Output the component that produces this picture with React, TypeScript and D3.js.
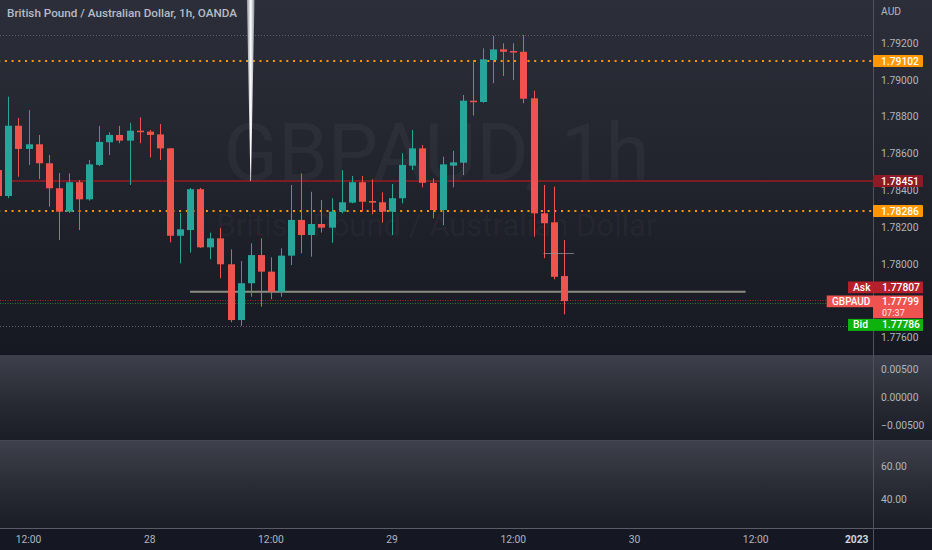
import React, { useRef, useEffect } from "react";
import * as d3 from "d3";

const WIDTH = 932;
const HEIGHT = 550;

// GBPAUD hourly candles (27 Dec 09:00 -> 29 Dec 17:00)
const opens = [
  1.78511, 1.7837, 1.78752, 1.78626, 1.78651, 1.78548, 1.78412, 1.78285, 1.78445, 1.78352,
  1.78539, 1.78662, 1.78702, 1.78671, 1.78725, 1.7872, 1.78705, 1.78629, 1.78154, 1.78185,
  1.78407, 1.78091, 1.7814, 1.77999, 1.77696, 1.77896, 1.78049, 1.77959, 1.7785, 1.78046,
  1.7824, 1.78158, 1.78218, 1.78198, 1.78285, 1.78334, 1.78445, 1.78343, 1.78336, 1.78285,
  1.78358, 1.78535, 1.78629, 1.78442, 1.78294, 1.78535, 1.78551, 1.78888, 1.78881, 1.79109,
  1.79167, 1.79158, 1.79154, 1.78901, 1.78276, 1.78227, 1.77935,
];
const highs = [
  1.78539, 1.7891, 1.78794, 1.78837, 1.78702, 1.78593, 1.78495, 1.78493, 1.78457, 1.78566,
  1.78751, 1.78716, 1.78751, 1.78768, 1.78798, 1.78729, 1.78761, 1.78631, 1.78278, 1.78414,
  1.78414, 1.78171, 1.78195, 1.7808, 1.78017, 1.78113, 1.7814, 1.78037, 1.78086, 1.7843,
  1.78493, 1.78393, 1.78348, 1.78358, 1.78511, 1.78479, 1.78479, 1.78461, 1.7839, 1.78435,
  1.78602, 1.78729, 1.78647, 1.78466, 1.78584, 1.78616, 1.78919, 1.79109, 1.79173, 1.7924,
  1.792, 1.792, 1.79245, 1.78942, 1.7843, 1.78421, 1.78131,
];
const lows = [
  1.78354, 1.78359, 1.78475, 1.78539, 1.78462, 1.78312, 1.78131, 1.78278, 1.78185, 1.78345,
  1.78533, 1.78593, 1.78657, 1.7843, 1.78657, 1.7858, 1.78566, 1.78118, 1.78004, 1.78062,
  1.78088, 1.78026, 1.77923, 1.77684, 1.77664, 1.77823, 1.77768, 1.77809, 1.77823, 1.77995,
  1.78059, 1.7804, 1.78171, 1.78116, 1.78276, 1.7833, 1.78285, 1.78271, 1.78225, 1.78158,
  1.7833, 1.78511, 1.78417, 1.78249, 1.78212, 1.78417, 1.78484, 1.78807, 1.78877, 1.78983,
  1.79022, 1.79001, 1.78874, 1.78149, 1.78032, 1.77917, 1.77727,
];
const closes = [
  1.7837, 1.78752, 1.78626, 1.78651, 1.78548, 1.78412, 1.78285, 1.78445, 1.78352, 1.78542,
  1.78664, 1.78702, 1.78671, 1.78725, 1.78718, 1.78702, 1.78629, 1.78154, 1.78189, 1.78407,
  1.78091, 1.7814, 1.77999, 1.77696, 1.77896, 1.78049, 1.77959, 1.7785, 1.78046, 1.7824,
  1.78158, 1.78218, 1.78198, 1.78285, 1.78336, 1.78445, 1.78339, 1.78334, 1.78285, 1.78358,
  1.78539, 1.78629, 1.78442, 1.78294, 1.78542, 1.78553, 1.78888, 1.78881, 1.79113, 1.79167,
  1.79154, 1.79153, 1.78899, 1.78276, 1.78222, 1.77931, 1.77799,
];

const timeTickBars = [3, 15, 27, 39, 51, 63, 75, 85];
const timeTickLabels = ["12:00", "28", "12:00", "29", "12:00", "30", "12:00", "2023"];

// 1.77800 is hidden behind the last-price labels in the original
const priceTicks = [1.792, 1.79, 1.788, 1.786, 1.784, 1.782, 1.78, 1.776];
const oscTicks = [0.005, 0, -0.005];
const rsiTicks = [60, 40];

// horizontal levels drawn by the user
const levelPrices = [1.79102, 1.78451, 1.78286];
const levelColors = ["#ff9800", "#7c1d25", "#ff9800"];
const levelDashes = ["2,4.7", null, "2,4.7"];
const levelStartBars = [0, 1, 0];

const askPrice = 1.77807;
const lastPrice = 1.77799;
const bidPrice = 1.77786;
const countdown = "07:37";

const rayBars = [19, 74];
const rayPrice = 1.7785;
const needleBar = 25;
const needlePrice = 1.78451;
const cursorBars = [54, 57];
const cursorPrice = 1.78059;

const AXIS_X = 873;
const MAIN_BOTTOM = 355;
const OSC_TOP = 355;
const OSC_BOTTOM = 440;
const RSI_TOP = 441;
const RSI_BOTTOM = 528;
const FONT = "Roboto, 'Open Sans', sans-serif";
const TEXT = "#b2b5be";

export default function App() {
  const svgRef = useRef<SVGSVGElement>(null);

  useEffect(() => {
    if (!svgRef.current) return;
    const svg = d3.select(svgRef.current);
    svg.selectAll("*").remove();

    const x = d3.scaleLinear().domain([0, 85]).range([-1.8, 856.7]);
    const y = d3.scaleLinear().domain([1.776, 1.792]).range([337.7, 43.3]);
    const yOsc = d3.scaleLinear().domain([0.005, -0.005]).range([369, 425.7]);
    const yRsi = d3.scaleLinear().domain([60, 40]).range([466, 499]);
    const step = x(1) - x(0);
    const bodyW = Math.round(step * 0.7);

    const defs = svg.append("defs");
    const mainGrad = defs.append("linearGradient").attr("id", "mainBg").attr("x1", 0).attr("x2", 0).attr("y1", 0).attr("y2", 1);
    mainGrad.append("stop").attr("offset", "0%").attr("stop-color", "#2c2f39");
    mainGrad.append("stop").attr("offset", "55%").attr("stop-color", "#20232c");
    mainGrad.append("stop").attr("offset", "100%").attr("stop-color", "#161922");
    const paneGrad = defs.append("linearGradient").attr("id", "paneBg").attr("x1", 0).attr("x2", 0).attr("y1", 0).attr("y2", 1);
    paneGrad.append("stop").attr("offset", "0%").attr("stop-color", "#3e414b");
    paneGrad.append("stop").attr("offset", "60%").attr("stop-color", "#262932");
    paneGrad.append("stop").attr("offset", "100%").attr("stop-color", "#1a1d26");
    const needleGrad = defs.append("linearGradient").attr("id", "needle").attr("x1", 0).attr("x2", 1).attr("y1", 0).attr("y2", 0);
    needleGrad.append("stop").attr("offset", "0%").attr("stop-color", "#8c8f98");
    needleGrad.append("stop").attr("offset", "50%").attr("stop-color", "#ffffff");
    needleGrad.append("stop").attr("offset", "100%").attr("stop-color", "#8c8f98");
    defs.append("clipPath").attr("id", "mainClip").append("rect")
      .attr("x", 0).attr("y", 0).attr("width", AXIS_X).attr("height", MAIN_BOTTOM);

    // backgrounds
    svg.append("rect").attr("width", WIDTH).attr("height", HEIGHT).attr("fill", "#151822");
    svg.append("rect").attr("width", WIDTH).attr("height", MAIN_BOTTOM).attr("fill", "url(#mainBg)");
    svg.append("rect").attr("y", OSC_TOP).attr("width", WIDTH).attr("height", OSC_BOTTOM - OSC_TOP).attr("fill", "url(#paneBg)");
    svg.append("rect").attr("y", RSI_TOP).attr("width", WIDTH).attr("height", RSI_BOTTOM - RSI_TOP).attr("fill", "url(#paneBg)");
    svg.append("line").attr("x1", 0).attr("x2", WIDTH).attr("y1", MAIN_BOTTOM - 0.5).attr("y2", MAIN_BOTTOM - 0.5).attr("stroke", "#11141c");
    svg.append("line").attr("x1", 0).attr("x2", WIDTH).attr("y1", OSC_BOTTOM + 0.5).attr("y2", OSC_BOTTOM + 0.5).attr("stroke", "#474a54");
    svg.append("line").attr("x1", 0).attr("x2", WIDTH).attr("y1", RSI_BOTTOM + 0.5).attr("y2", RSI_BOTTOM + 0.5).attr("stroke", "#5a5d67");

    const main = svg.append("g").attr("clip-path", "url(#mainClip)");

    // watermark
    main.append("text")
      .attr("x", AXIS_X / 2).attr("y", 180)
      .attr("text-anchor", "middle")
      .style("font-family", FONT).style("font-size", "80px")
      .attr("fill", "#ffffff").attr("fill-opacity", 0.04)
      .text("GBPAUD, 1h");
    main.append("text")
      .attr("x", AXIS_X / 2).attr("y", 236)
      .attr("text-anchor", "middle")
      .style("font-family", FONT).style("font-size", "31px")
      .attr("fill", "#ffffff").attr("fill-opacity", 0.04)
      .text("British Pound / Australian Dollar");

    // session high / low
    const hi = d3.max(highs) as number;
    const lo = d3.min(lows) as number;
    [hi, lo].forEach(p => {
      main.append("line")
        .attr("x1", 0).attr("x2", AXIS_X)
        .attr("y1", Math.round(y(p)) + 0.5).attr("y2", Math.round(y(p)) + 0.5)
        .attr("stroke", "#5d606b").attr("stroke-width", 1).attr("stroke-dasharray", "1,2");
    });

    // levels
    levelPrices.forEach((p, i) => {
      main.append("line")
        .attr("x1", x(levelStartBars[i])).attr("x2", AXIS_X)
        .attr("y1", Math.round(y(p))).attr("y2", Math.round(y(p)))
        .attr("stroke", levelColors[i]).attr("stroke-width", 2)
        .attr("stroke-dasharray", levelDashes[i]);
    });

    // ask / bid lines
    main.append("line")
      .attr("x1", 0).attr("x2", AXIS_X)
      .attr("y1", Math.round(y(askPrice)) + 0.5).attr("y2", Math.round(y(askPrice)) + 0.5)
      .attr("stroke", "#a3222a").attr("stroke-dasharray", "1,1.5");
    main.append("line")
      .attr("x1", 0).attr("x2", AXIS_X)
      .attr("y1", Math.round(y(bidPrice)) + 0.5).attr("y2", Math.round(y(bidPrice)) + 0.5)
      .attr("stroke", "#2b7a2f").attr("stroke-dasharray", "1,1.5");

    // user horizontal ray
    main.append("line")
      .attr("x1", x(rayBars[0])).attr("x2", x(rayBars[1]))
      .attr("y1", y(rayPrice)).attr("y2", y(rayPrice))
      .attr("stroke", "#8a8e7e").attr("stroke-width", 2);

    // candles
    const idx = d3.range(opens.length);
    const color = (i: number) => (closes[i] >= opens[i] ? "#26a69a" : "#ef5350");
    const cx = (i: number) => Math.round(x(i));

    main.selectAll(".wick")
      .data(idx)
      .enter()
      .append("line")
      .attr("class", "wick")
      .attr("x1", i => cx(i) + 0.5)
      .attr("x2", i => cx(i) + 0.5)
      .attr("y1", i => y(highs[i]))
      .attr("y2", i => y(lows[i]))
      .attr("stroke", color)
      .attr("stroke-width", 1);

    main.selectAll(".body")
      .data(idx)
      .enter()
      .append("rect")
      .attr("class", "body")
      .attr("x", i => cx(i) + 0.5 - bodyW / 2)
      .attr("width", bodyW)
      .attr("y", i => y(Math.max(opens[i], closes[i])))
      .attr("height", i => Math.max(1.5, Math.abs(y(opens[i]) - y(closes[i]))))
      .attr("fill", color);

    // cursor remnant
    main.append("line")
      .attr("x1", x(cursorBars[0])).attr("x2", x(cursorBars[1]))
      .attr("y1", Math.round(y(cursorPrice)) + 0.5).attr("y2", Math.round(y(cursorPrice)) + 0.5)
      .attr("stroke", "#9598a1").attr("stroke-opacity", 0.7);

    // needle drawing
    const nx = x(needleBar);
    const ny = y(needlePrice);
    main.append("path")
      .attr("d", `M${nx - 3.8},0 L${nx + 3.8},0 L${nx + 0.3},${ny} L${nx - 0.3},${ny} Z`)
      .attr("fill", "url(#needle)");

    // title
    svg.append("text")
      .attr("x", 7).attr("y", 17)
      .style("font-family", FONT).style("font-size", "11.7px").style("font-weight", 500)
      .attr("fill", "#b8bbc4")
      .text("British Pound / Australian Dollar, 1h, OANDA");

    // right axis
    svg.append("line")
      .attr("x1", AXIS_X + 0.5).attr("x2", AXIS_X + 0.5)
      .attr("y1", 0).attr("y2", HEIGHT)
      .attr("stroke", "#50535e");

    const axisText = (sel: d3.Selection<SVGTextElement, unknown, null, undefined>) =>
      sel.style("font-family", FONT).style("font-size", "10.3px").attr("fill", TEXT).attr("dominant-baseline", "central");

    svg.append("text").attr("x", 881).attr("y", 11).call(axisText).text("AUD");

    svg.selectAll(".ptick").data(priceTicks).enter().append("text")
      .attr("class", "ptick").attr("x", 881).attr("y", d => y(d))
      .call(axisText as any).text(d => d.toFixed(5));
    svg.selectAll(".otick").data(oscTicks).enter().append("text")
      .attr("class", "otick").attr("x", 881).attr("y", d => yOsc(d))
      .call(axisText as any).text(d => (d < 0 ? "\u2212" + Math.abs(d).toFixed(5) : d.toFixed(5)));
    svg.selectAll(".rtick").data(rsiTicks).enter().append("text")
      .attr("class", "rtick").attr("x", 881).attr("y", d => yRsi(d))
      .call(axisText as any).text(d => d.toFixed(2));

    const boxText = (gSel: any, tx: number, ty: number, s: string, fill = "#ffffff", size = "10.3px") =>
      gSel.append("text").attr("x", tx).attr("y", ty)
        .style("font-family", FONT).style("font-size", size).style("font-weight", 500)
        .attr("fill", fill).attr("dominant-baseline", "central").text(s);

    // level markers on axis
    levelPrices.forEach((p, i) => {
      const yy = Math.round(y(p));
      svg.append("rect").attr("x", AXIS_X).attr("y", yy - 6).attr("width", 50).attr("height", 12)
        .attr("rx", 1).attr("fill", i === 1 ? "#8b1c26" : "#ff9800");
      boxText(svg, 881, yy, p.toFixed(5));
    });

    // last price / ask / bid stack
    const ly = Math.round(y(lastPrice));
    const gbTop = ly - 5.5;
    svg.append("rect").attr("x", 848).attr("y", gbTop - 14).attr("width", 75).attr("height", 11.7).attr("fill", "#b5202a");
    boxText(svg, 853, gbTop - 8.2, "Ask");
    boxText(svg, 882, gbTop - 8.2, askPrice.toFixed(5));

    svg.append("rect").attr("x", 826.7).attr("y", gbTop).attr("width", 46.3).attr("height", 11.7).attr("fill", "#ef5350");
    svg.append("rect").attr("x", AXIS_X).attr("y", gbTop).attr("width", 50).attr("height", 22.7).attr("fill", "#ef5350");
    boxText(svg, 832, gbTop + 5.7, "GBPAUD", "#ffffff", "10px");
    boxText(svg, 882, gbTop + 5.7, lastPrice.toFixed(5), "#ffffff", "10px");
    boxText(svg, 882, gbTop + 17.3, countdown, "#ffd3d3", "9px");

    svg.append("rect").attr("x", 848).attr("y", gbTop + 23.4).attr("width", 75).attr("height", 12).attr("fill", "#0db20d");
    boxText(svg, 853, gbTop + 29.4, "Bid");
    boxText(svg, 882, gbTop + 29.4, bidPrice.toFixed(5));

    // time axis
    svg.selectAll(".ttick").data(timeTickBars).enter().append("text")
      .attr("class", "ttick")
      .attr("x", d => x(d)).attr("y", 539.5)
      .attr("text-anchor", "middle").attr("dominant-baseline", "central")
      .style("font-family", FONT).style("font-size", "10.3px")
      .style("font-weight", (_d, i) => (timeTickLabels[i] === "2023" ? 700 : 400))
      .attr("fill", (_d, i) => (timeTickLabels[i] === "2023" ? "#d1d4dc" : TEXT))
      .text((_d, i) => timeTickLabels[i]);
  }, []);

  return (
    <div style={{ position: "absolute", left: 0, top: 0, width: WIDTH, height: HEIGHT }}>
      <svg ref={svgRef} width={WIDTH} height={HEIGHT} style={{ display: "block" }} />
    </div>
  );
}
